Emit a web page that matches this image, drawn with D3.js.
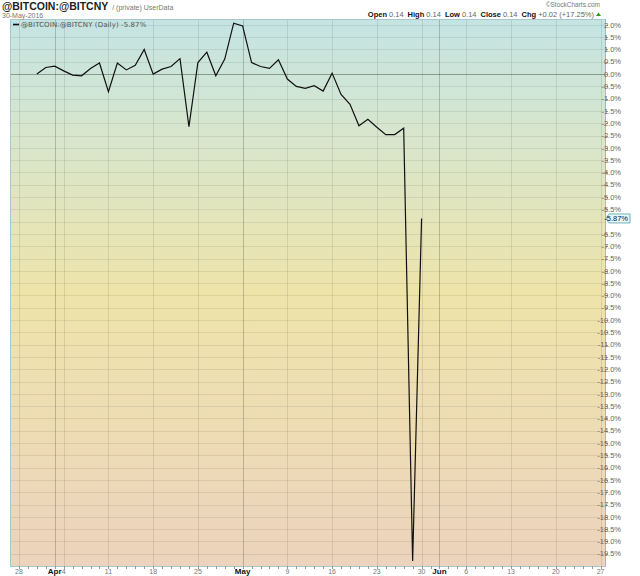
<!DOCTYPE html>
<html><head><meta charset="utf-8">
<script src="https://cdn.jsdelivr.net/npm/d3@7"></script>
<style>body{margin:0;background:#fff}svg{display:block}</style>
</head><body>
<svg id="c" width="640" height="576"></svg>
<script>
const dates = ["2016-03-30","2016-03-31","2016-04-01","2016-04-04","2016-04-05","2016-04-06","2016-04-07","2016-04-08",
"2016-04-11","2016-04-12","2016-04-13","2016-04-14","2016-04-15","2016-04-18","2016-04-19","2016-04-20","2016-04-21","2016-04-22",
"2016-04-25","2016-04-26","2016-04-27","2016-04-28","2016-04-29","2016-05-02","2016-05-03","2016-05-04","2016-05-05","2016-05-06",
"2016-05-09","2016-05-10","2016-05-11","2016-05-12","2016-05-13","2016-05-16","2016-05-17","2016-05-18","2016-05-19","2016-05-20",
"2016-05-23","2016-05-24","2016-05-25","2016-05-26","2016-05-27","2016-05-30"];
const values = [0.0,0.27,0.32,0.13,-0.04,-0.07,0.23,0.45,
-0.72,0.45,0.17,0.36,1.0,0.0,0.2,0.31,0.63,-2.14,
0.47,0.89,-0.07,0.61,2.07,1.96,0.47,0.31,0.23,0.58,
-0.2,-0.5,-0.58,-0.47,-0.69,0.04,-0.83,-1.23,-2.1,-1.84,
-2.16,-2.46,-2.46,-2.2,-19.8,-5.87];
const xTickLabels = [
 {d:"2016-03-28",t:"28"},{d:"2016-04-01",t:"Apr",m:1},{d:"2016-04-04",t:"4"},{d:"2016-04-11",t:"11"},
 {d:"2016-04-18",t:"18"},{d:"2016-04-25",t:"25"},{d:"2016-05-02",t:"May",m:1},{d:"2016-05-09",t:"9"},
 {d:"2016-05-16",t:"16"},{d:"2016-05-23",t:"23"},{d:"2016-05-30",t:"30"},{d:"2016-06-01",t:"Jun",m:1},
 {d:"2016-06-06",t:"6"},{d:"2016-06-13",t:"13"},{d:"2016-06-20",t:"20"},{d:"2016-06-27",t:"27"}];
const yTicks = d3.range(-39,5).map(i=>i*0.5); // -19.5 .. 2.0
const lastValue = -5.87;

const parse = d3.utcParse("%Y-%m-%d");
const tradingDays = d3.utcDay.range(parse("2016-03-28"), parse("2016-06-28")).filter(d=>d.getUTCDay()>0&&d.getUTCDay()<6);
const fmtKey = d3.utcFormat("%Y-%m-%d");
const idx = new Map(tradingDays.map((d,i)=>[fmtKey(d),i]));

const L=10,R=605,T=19,B=566;
const x = d3.scaleLinear().domain([-1,65.5]).range([L,R]);
const y = d3.scaleLinear().domain([-20,2.24]).range([B,T]);
const svg = d3.select("#c");
const defs = svg.append("defs");
const g = defs.append("linearGradient").attr("id","bg").attr("x1",0).attr("y1",0).attr("x2",0).attr("y2",1);
g.append("stop").attr("offset","0%").attr("stop-color","#c4e4e3");
g.append("stop").attr("offset","22%").attr("stop-color","#d8e6cc");
g.append("stop").attr("offset","50%").attr("stop-color","#eee4aa");
g.append("stop").attr("offset","75%").attr("stop-color","#eedcb4");
g.append("stop").attr("offset","100%").attr("stop-color","#ecd3bd");
svg.append("rect").attr("x",L).attr("y",T).attr("width",R-L).attr("height",B-T).attr("fill","url(#bg)");

svg.append("g").selectAll("line").data(yTicks).join("line")
 .attr("x1",L).attr("x2",R).attr("y1",d=>Math.round(y(d))+0.5).attr("y2",d=>Math.round(y(d))+0.5)
 .attr("stroke",d=>d===0?"#8a9a90":"#000").attr("stroke-opacity",d=>d===0?1:0.08).attr("stroke-width",1);
svg.append("g").selectAll("line").data(xTickLabels).join("line")
 .attr("x1",d=>Math.round(x(idx.get(d.d)))+0.5).attr("x2",d=>Math.round(x(idx.get(d.d)))+0.5)
 .attr("y1",T).attr("y2",B)
 .attr("stroke","#000").attr("stroke-opacity",d=>d.m?0.2:0.09);

svg.append("rect").attr("x",L+0.5).attr("y",T+0.5).attr("width",R-L).attr("height",B-T)
 .attr("fill","none").attr("stroke","#a8c8cc");
svg.append("line").attr("x1",R+0.5).attr("x2",R+0.5).attr("y1",T).attr("y2",B).attr("stroke","#8fc0cc");

svg.append("g").selectAll("line").data(tradingDays).join("line")
 .attr("x1",(d,i)=>Math.round(x(i))+0.5).attr("x2",(d,i)=>Math.round(x(i))+0.5)
 .attr("y1",B).attr("y2",B+3).attr("stroke","#999");

const pts = dates.map((d,i)=>[x(idx.get(d)), y(values[i])]);
svg.append("path").attr("d",d3.line()(pts)).attr("fill","none").attr("stroke","#111").attr("stroke-width",1.2);

const yl = svg.append("g").attr("font-family","Arial, Liberation Sans, sans-serif").attr("font-size",7.5).attr("fill","#666");
yTicks.filter(v=>Math.abs(v-lastValue)>0.2).forEach(v=>{
  yl.append("line").attr("x1",R).attr("x2",R+3).attr("y1",Math.round(y(v))+0.5).attr("y2",Math.round(y(v))+0.5).attr("stroke","#999");
  yl.append("text").attr("x",621).attr("y",y(v)+2.7).attr("text-anchor","end").text(v.toFixed(1)+"%");
});
const by=y(lastValue);
svg.append("path").attr("d",`M${R+1},${by} L${R+4},${by-4.5} L630,${by-4.5} L630,${by+4.5} L${R+4},${by+4.5} Z`)
 .attr("fill","#e6f7f7").attr("stroke","#4f9fb5").attr("stroke-width",0.8);
svg.append("text").attr("x",628).attr("y",by+2.7).attr("text-anchor","end").attr("font-family","Arial, sans-serif")
 .attr("font-size",7.5).attr("fill","#114").text(lastValue.toFixed(2)+"%");

const xl = svg.append("g").attr("font-family","Arial, Liberation Sans, sans-serif");
xTickLabels.forEach(d=>{
  xl.append("text").attr("x",x(idx.get(d.d))).attr("y",574).attr("text-anchor","middle")
   .attr("font-size",d.m?8:7).attr("font-weight",d.m?"bold":"normal").attr("fill",d.m?"#111":"#777").text(d.t);
});

const hf="Arial, Liberation Sans, sans-serif";
svg.append("text").attr("x",2).attr("y",10).attr("font-family",hf).attr("font-size",10.5).attr("font-weight","bold").attr("fill","#222")
 .text("@BITCOIN:@BITCNY").append("tspan").attr("font-weight","normal").attr("font-size",7).attr("fill","#777").attr("dx",4).text("/ (private) UserData");
svg.append("text").attr("x",2).attr("y",17.5).attr("font-family",hf).attr("font-size",7).attr("fill","#777").text("30-May-2016");
svg.append("text").attr("x",600).attr("y",7).attr("text-anchor","end").attr("font-family",hf).attr("font-size",6.5).attr("fill","#777").text("©StockCharts.com");
const ohlc = svg.append("text").attr("x",594).attr("y",16.5).attr("text-anchor","end").attr("font-family",hf).attr("font-size",7.5).attr("fill","#666");
[["Open","0.14"],["High","0.14"],["Low","0.14"],["Close","0.14"],["Chg","+0.02 (+17.25%)"]].forEach((p,i)=>{
  ohlc.append("tspan").attr("font-weight","bold").attr("fill","#111").attr("dx",i?4:0).text(p[0]);
  ohlc.append("tspan").attr("dx",2).text(p[1]);
});
svg.append("path").attr("d","M596,16 L598.5,12.5 L601,16 Z").attr("fill","#2a9a2a");

svg.append("line").attr("x1",13).attr("x2",19).attr("y1",24.5).attr("y2",24.5).attr("stroke","#111").attr("stroke-width",1.6);
svg.append("text").attr("x",21).attr("y",27).attr("font-family","DejaVu Sans, Verdana, sans-serif").attr("font-size",7).attr("fill","#555")
 .attr("letter-spacing",0.1).text("@BITCOIN:@BITCNY (Daily) -5.87%");
</script>
</body></html>
